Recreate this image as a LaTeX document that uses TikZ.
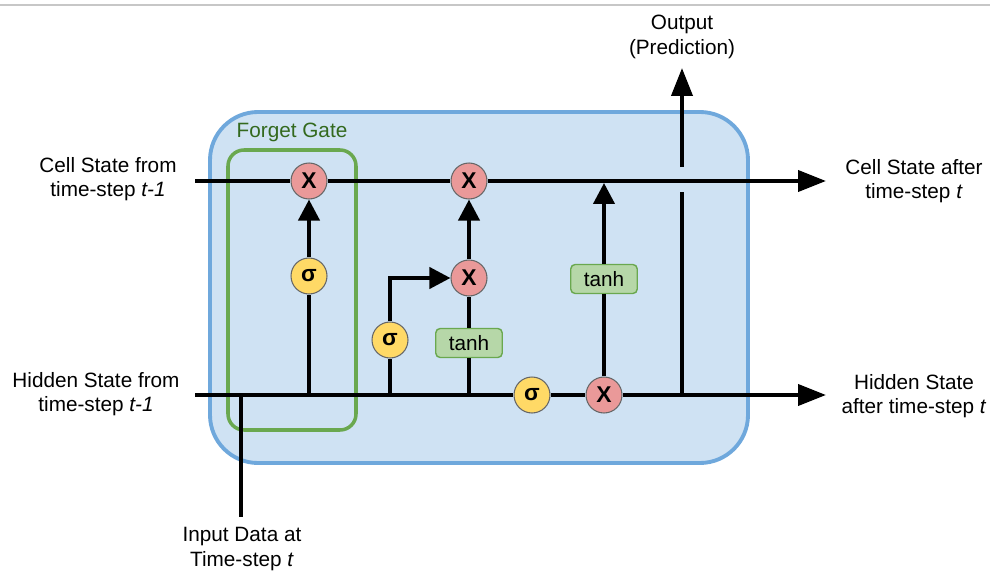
\documentclass[tikz,border=0pt]{standalone}
\usepackage{fontspec}
\setmainfont{Liberation Sans}
\usetikzlibrary{arrows.meta,positioning,calc}

\definecolor{cellfill}{HTML}{CFE2F3}
\definecolor{celledge}{HTML}{6FA8DC}
\definecolor{gateedge}{HTML}{6AA84F}
\definecolor{gatetext}{HTML}{33691E}
\definecolor{multfill}{HTML}{EA9999}
\definecolor{sigfill}{HTML}{FFD966}
\definecolor{tanhfill}{HTML}{B6D7A8}

\tikzset{
  wire/.style={line width=2.3pt},
  bigarrow/.style={wire,-{Triangle[length=0.56cm,width=0.42cm]}},
  smallarrow/.style={wire,-{Triangle[length=0.42cm,width=0.42cm]}},
  opnode/.style={circle,draw=black!60,line width=0.6pt,minimum size=0.72cm,inner sep=0pt,font=\bfseries\fontsize{13}{14}\selectfont},
  multnode/.style={opnode,fill=multfill},
  signode/.style={opnode,fill=sigfill},
  tanhbox/.style={rectangle,rounded corners=2.5pt,draw=gateedge,line width=0.8pt,fill=tanhfill,minimum width=1.33cm,minimum height=0.58cm,inner sep=0pt},
  lbl/.style={align=center,inner sep=0pt}
}

\begin{document}
\begin{tikzpicture}[x=0.02cm,y=-0.02cm,font=\fontsize{11.8}{14}\selectfont]
\useasboundingbox (0,0) rectangle (990,571);

%Top rule of the page
\draw[black!22,line width=0.8pt] (0,5) -- (990,5);

%Cell body and forget gate
\draw[celledge,fill=cellfill,line width=2.2pt,rounded corners=0.96cm] (210,112) rectangle (748,463);
\draw[gateedge,line width=2pt,rounded corners=0.32cm] (228,150) rectangle (356,430);
\node[lbl,text=gatetext] (fglabel) at (292,132) {Forget Gate};

%Gates
\node[multnode] (m1) at (309,181) {X};
\node[multnode] (m2) at (469,181) {X};
\node[multnode] (m3) at (469,278) {X};
\node[multnode] (m4) at (604,395) {X};
\node[signode] (s1) at (309,276) {σ};
\node[signode] (s2) at (390,340) {σ};
\node[signode] (s3) at (532,395) {σ};
\node[tanhbox] (t1) at (469,343) {tanh};
\node[tanhbox] (t2) at (604,279) {tanh};

%Marking coordinates
\coordinate (cin) at (195,181);
\coordinate (cout) at (826,181);
\coordinate (hin) at (195,395);
\coordinate (hout) at (826,395);
\coordinate (j1) at (241,395);
\coordinate (j2) at (309,395);
\coordinate (j3) at (390,395);
\coordinate (j4) at (469,395);
\coordinate (j5) at (682,395);
\coordinate (cj) at (604,183);
\coordinate (gapb) at (682,192);
\coordinate (gapt) at (682,167);
\coordinate (otip) at (682,68);
\coordinate (inb) at (241,517);

%Cell state and hidden state lines
\draw[wire] (cin) -- (m1);
\draw[wire] (m1) -- (m2);
\draw[bigarrow] (m2) -- (cout);
\draw[wire] (hin) -- (s3);
\draw[wire] (s3) -- (m4);
\draw[bigarrow] (m4) -- (hout);

%Inner connections
\draw[wire] (j1) -- (inb);
\draw[wire] (j2) -- (s1);
\draw[smallarrow] (s1) -- (m1);
\draw[wire] (j3) -- (s2);
\draw[smallarrow] (s2) |- (m3);
\draw[wire] (j4) -- (t1);
\draw[wire] (t1) -- (m3);
\draw[smallarrow] (m3) -- (m2);
\draw[wire] (m4) -- (t2);
\draw[smallarrow] (t2) -- (cj);
\draw[wire] (j5) -- (gapb);
\draw[bigarrow] (gapt) -- (otip);

%Labels
\node[lbl] (cinlabel) at (108,179) {Cell State from\\time-step \textit{t-1}};
\node[lbl] (hinlabel) at (96,394) {Hidden State from\\time-step \textit{t-1}};
\node[lbl] (coutlabel) at (914,181) {Cell State after\\time-step \textit{t}};
\node[lbl] (houtlabel) at (914,396) {Hidden State\\after time-step \textit{t}};
\node[lbl] (outlabel) at (682,37) {Output\\(Prediction)};
\node[lbl] (inlabel) at (242,549) {Input Data at\\Time-step \textit{t}};
\end{tikzpicture}
\end{document}
